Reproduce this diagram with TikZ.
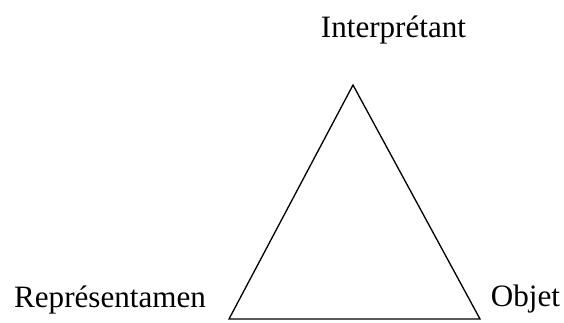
\documentclass[tikz,border=0pt]{standalone}
\usepackage{fontspec}
\setmainfont{Liberation Serif}
\begin{document}
\begin{tikzpicture}[x=0.02cm,y=-0.02cm,font=\fontsize{17.7}{21}\selectfont,
    corner/.style={line width=0.75pt}]
            \useasboundingbox (0,0) rectangle (564,322);
            \coordinate (interp) at (353,85);
            \coordinate (repr) at (229,319);
            \coordinate (objet) at (480,319);
            \draw[corner] (repr) -- (interp) -- (objet) -- cycle;
            \node[anchor=base] (interpLabel) at (393.5,37) {Interprétant};
            \node[anchor=base] (reprLabel) at (110,307) {Représentamen};
            \node[anchor=base] (objetLabel) at (525.5,306) {Objet};
        \end{tikzpicture}
\end{document}
